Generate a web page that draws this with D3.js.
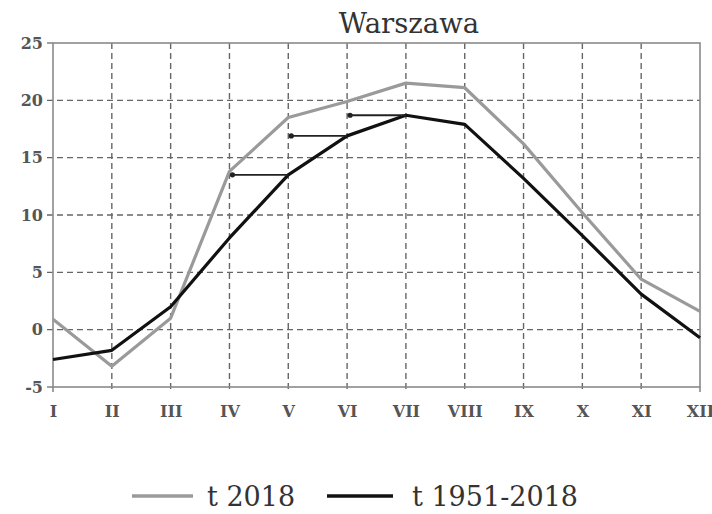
<!DOCTYPE html>
<html><head><meta charset="utf-8">
<script src="https://cdn.jsdelivr.net/npm/d3@7"></script>
<style>body{margin:0;background:#fff}svg{display:block}</style>
</head><body>
<script>
const months = ["I","II","III","IV","V","VI","VII","VIII","IX","X","XI","XII"];
const t2018 = [0.9,-3.2,1.0,13.8,18.5,19.9,21.5,21.1,16.2,10.2,4.4,1.6];
const tAvg = [-2.6,-1.8,2.0,8.0,13.5,16.9,18.7,17.9,13.2,8.2,3.1,-0.7];
const yTicks = [-5,0,5,10,15,20,25];
const arrows = [["IV","V"],["V","VI"],["VI","VII"]];
const title = "Warszawa";
const legendLabels = ["t 2018","t 1951-2018"];

const W=712,H=514;
const m={l:53,r:12,t:43,b:127};
const svg=d3.select("body").append("svg").attr("width",W).attr("height",H);
const x=d3.scalePoint().domain(months).range([m.l,W-m.r]);
const y=d3.scaleLinear().domain([-5,25]).range([H-m.b,m.t]);
const font="DejaVu Serif, serif";

// grid
const g=svg.append("g");
g.selectAll(".hg").data(yTicks.filter(d=>d>-5&&d<25)).join("line")
 .attr("x1",m.l-6).attr("x2",W-m.r).attr("y1",d=>y(d)).attr("y2",d=>y(d))
 .attr("stroke","#666").attr("stroke-width",1.4).attr("stroke-dasharray","6,4");
g.selectAll(".vg").data(months.slice(1,-1)).join("line")
 .attr("x1",d=>x(d)).attr("x2",d=>x(d)).attr("y1",m.t).attr("y2",H-m.b+5)
 .attr("stroke","#666").attr("stroke-width",1.4).attr("stroke-dasharray","6,4");
// border
svg.append("rect").attr("x",m.l).attr("y",m.t).attr("width",W-m.r-m.l).attr("height",H-m.b-m.t)
 .attr("fill","none").attr("stroke","#8a8a8a").attr("stroke-width",1.6);
[25,-5].forEach(v=>svg.append("line").attr("x1",m.l-6).attr("x2",m.l).attr("y1",y(v)).attr("y2",y(v)).attr("stroke","#8a8a8a").attr("stroke-width",1.6));
[months[0],months[11]].forEach(v=>svg.append("line").attr("x1",x(v)).attr("x2",x(v)).attr("y1",H-m.b).attr("y2",H-m.b+5).attr("stroke","#8a8a8a").attr("stroke-width",1.6));

// axes labels
const ya=d3.axisLeft(y).tickValues(yTicks).tickSize(0).tickPadding(10).tickFormat(d=>String(d));
const yg=svg.append("g").attr("transform",`translate(${m.l},0)`).call(ya);
yg.select(".domain").remove();
yg.selectAll("text").attr("font-family",font).attr("font-size",16).attr("fill","#555").attr("font-weight","bold");
const xa=d3.axisBottom(x).tickSize(0).tickPadding(19);
const xg=svg.append("g").attr("transform",`translate(0,${H-m.b})`).call(xa);
xg.select(".domain").remove();
xg.selectAll("text").attr("font-family",font).attr("font-size",16).attr("fill","#555").attr("font-weight","bold");

// lines
const line=d3.line().x((d,i)=>x(months[i])).y(d=>y(d));
svg.append("path").datum(t2018).attr("d",line).attr("fill","none").attr("stroke","#9a9a9a").attr("stroke-width",3.2).attr("stroke-linejoin","round");
svg.append("path").datum(tAvg).attr("d",line).attr("fill","none").attr("stroke","#111").attr("stroke-width",3.2).attr("stroke-linejoin","round");

// arrows
arrows.forEach(([a,b])=>{
  const v=tAvg[months.indexOf(b)];
  svg.append("line").attr("x1",x(a)+3).attr("x2",x(b)).attr("y1",y(v)).attr("y2",y(v)).attr("stroke","#222").attr("stroke-width",1.8);
  svg.append("circle").attr("cx",x(a)+3).attr("cy",y(v)).attr("r",2.6).attr("fill","#222");
});

// title
svg.append("text").attr("x",409).attr("y",33).attr("text-anchor","middle").attr("font-family",font).attr("font-size",27.5).attr("fill","#333").text(title);

// legend
const lg=svg.append("g");
const ly=496;
lg.append("line").attr("x1",132).attr("x2",193).attr("y1",ly).attr("y2",ly).attr("stroke","#9a9a9a").attr("stroke-width",3.5);
lg.append("text").attr("x",207).attr("y",ly+10).attr("font-family",font).attr("font-size",27).attr("fill","#333").text(legendLabels[0]);
lg.append("line").attr("x1",327).attr("x2",393).attr("y1",ly).attr("y2",ly).attr("stroke","#111").attr("stroke-width",3.5);
lg.append("text").attr("x",412).attr("y",ly+10).attr("font-family",font).attr("font-size",27).attr("fill","#333").text(legendLabels[1]);
</script>
</body></html>
